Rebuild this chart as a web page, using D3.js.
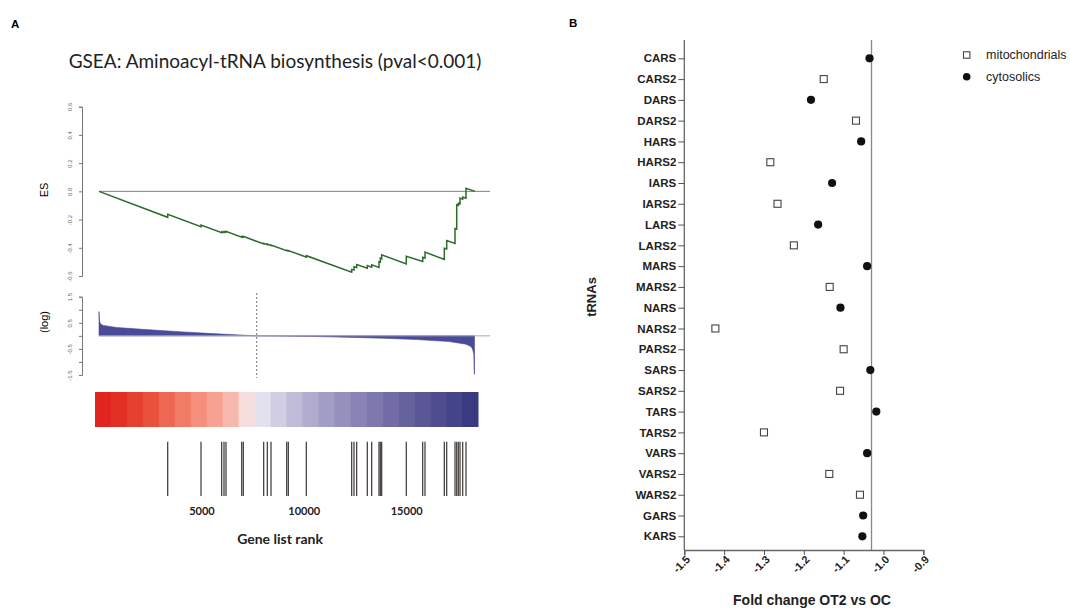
<!DOCTYPE html>
<html><head><meta charset="utf-8">
<script src="https://cdn.jsdelivr.net/npm/d3@7"></script>
<style>body{margin:0;background:#fff} svg{display:block}</style>
</head><body><svg id="c" width="1070" height="610"></svg>
<script>
// ---------- Panel A data ----------
const rankMax = 18360;
const hitRanks = [3355,4981,5991,6104,6201,6968,7046,8042,8218,8399,9166,9244,10123,12339,12452,12583,13101,13316,13672,13736,13804,15005,15806,15918,16861,16978,17384,17467,17545,17628,17760,17921];
const esBefore = [-0.184,-0.250,-0.293,-0.292,-0.290,-0.325,-0.324,-0.373,-0.378,-0.384,-0.421,-0.422,-0.466,-0.573,-0.557,-0.540,-0.545,-0.538,-0.540,-0.503,-0.478,-0.515,-0.497,-0.472,-0.482,-0.409,-0.370,-0.268,-0.100,-0.088,-0.055,-0.049];
const esAfter  = [-0.163,-0.239,-0.286,-0.285,-0.284,-0.320,-0.319,-0.369,-0.374,-0.380,-0.418,-0.419,-0.456,-0.553,-0.535,-0.519,-0.526,-0.521,-0.500,-0.474,-0.450,-0.460,-0.467,-0.431,-0.403,-0.349,-0.264,-0.096,-0.084,-0.048,-0.040,0.022];
const esStartEnd = [0.0, 0.0];
const metricRanks  = [0, 30, 80, 210, 860, 2490, 4120, 5750, 7370, 7700, 10630, 13860, 15490, 17110, 17920, 18160, 18240, 18300, 18325, 18335];
const metricValues = [0.93, 0.55, 0.45, 0.40, 0.32, 0.23, 0.15, 0.077, 0.013, 0, -0.026, -0.09, -0.14, -0.22, -0.32, -0.41, -0.5, -0.7, -1.47, -1.47];
const zeroCrossRank = 7700;
const heatValues = [1.0,0.97,0.92,0.85,0.75,0.65,0.55,0.45,0.32,0.12,-0.08,-0.18,-0.27,-0.35,-0.43,-0.5,-0.57,-0.63,-0.7,-0.76,-0.82,-0.88,-0.94,-1.0];
const esTicks = [-0.6,-0.4,-0.2,0.0,0.2,0.4,0.6];
const metricTicks = [-1.5,-1,-0.5,0,0.5,1,1.5];
const metricLabelTicks = [-1.5,-0.5,0.5,1.5];
const rankTicks = [5000,10000,15000];

// ---------- Panel B data ----------
const genes = ["CARS","CARS2","DARS","DARS2","HARS","HARS2","IARS","IARS2","LARS","LARS2","MARS","MARS2","NARS","NARS2","PARS2","SARS","SARS2","TARS","TARS2","VARS","VARS2","WARS2","GARS","KARS"];
const foldChange = [-1.035,-1.150,-1.182,-1.069,-1.056,-1.284,-1.129,-1.266,-1.164,-1.225,-1.041,-1.135,-1.108,-1.422,-1.100,-1.033,-1.109,-1.018,-1.300,-1.041,-1.136,-1.059,-1.051,-1.053];
const geneType = ["cyto","mito","cyto","mito","cyto","mito","cyto","mito","cyto","mito","cyto","mito","cyto","mito","mito","cyto","mito","cyto","mito","cyto","mito","mito","cyto","cyto"];
const fcTicks = [-1.5,-1.4,-1.3,-1.2,-1.1,-1.0,-0.9];
const refLine = -1.03;
const legendLabels = ["mitochondrials","cytosolics"];
const legendTypes = ["mito","cyto"];

const svg = d3.select("#c");
svg.append("rect").attr("width",1070).attr("height",610).attr("fill","#fff");
const calib = "Lato, 'Open Sans', sans-serif";
const arial = "'Liberation Sans', Arial, sans-serif";

// Panel letters
svg.append("text").attr("x",11).attr("y",28).text("A").attr("font-family",arial).attr("font-weight","bold").attr("font-size",11.5);
svg.append("text").attr("x",569).attr("y",27).text("B").attr("font-family",arial).attr("font-weight","bold").attr("font-size",11.5);

// Title
svg.append("text").attr("x",275).attr("y",68).attr("text-anchor","middle")
  .attr("font-family",calib).attr("font-size",19).attr("fill","#222")
  .text("GSEA: Aminoacyl-tRNA biosynthesis (pval<0.001)");

// ---------- ES plot ----------
const xr = d3.scaleLinear().domain([0, rankMax]).range([99, 475]);
const yES = d3.scaleLinear().domain([-0.6, 0.6]).range([276, 106.7]);
const gES = svg.append("g");
const esAxis = d3.axisLeft(yES).tickValues(esTicks).tickSize(3).tickFormat(d => d.toFixed(1));
const ga = gES.append("g").attr("transform","translate(82,0)").call(esAxis);
ga.select(".domain").attr("stroke","#777");
ga.selectAll(".tick line").attr("stroke","#777");
ga.selectAll(".tick text").attr("x",null).attr("dy",null)
  .attr("transform","translate(-10,0) rotate(-90)").attr("text-anchor","middle")
  .attr("font-size",6).attr("fill","#666").attr("font-family",arial);
gES.append("line").attr("x1",xr(0)).attr("x2",490).attr("y1",yES(0)).attr("y2",yES(0))
  .attr("stroke","#8c7a78").attr("stroke-width",1);
const esPts = [[0, esStartEnd[0]]];
hitRanks.forEach((r,i) => { esPts.push([r, esBefore[i]]); esPts.push([r, esAfter[i]]); });
esPts.push([rankMax, esStartEnd[1]]);
gES.append("path").datum(esPts)
  .attr("d", d3.line().x(d => xr(d[0])).y(d => yES(d[1])))
  .attr("fill","none").attr("stroke","#2f6a2c").attr("stroke-width",1.5);
svg.append("text").attr("transform","translate(48,190) rotate(-90)").attr("text-anchor","middle")
  .attr("font-family",arial).attr("font-size",11).text("ES");

// ---------- ranked metric ----------
const yM = d3.scaleLinear().domain([-1.5, 1.5]).range([375, 296.7]);
const gM = svg.append("g");
const mAxis = d3.axisLeft(yM).tickValues(metricTicks).tickSize(3)
  .tickFormat(d => metricLabelTicks.includes(d) ? String(d) : "");
const gm = gM.append("g").attr("transform","translate(82,0)").call(mAxis);
gm.select(".domain").attr("stroke","#777");
gm.selectAll(".tick line").attr("stroke","#777");
gm.selectAll(".tick text").attr("x",null).attr("dy",null)
  .attr("transform","translate(-10,0) rotate(-90)").attr("text-anchor","middle")
  .attr("font-size",6).attr("fill","#666").attr("font-family",arial);
const metricPts = metricRanks.map((r,i) => [r, metricValues[i]]);
gM.append("path").datum(metricPts)
  .attr("d", d3.area().x(d => xr(d[0])).y0(yM(0)).y1(d => yM(d[1])))
  .attr("fill","#4a4a9c").attr("stroke","#4a4a9c").attr("stroke-width",0.6);
gM.append("line").attr("x1",xr(0)).attr("x2",490).attr("y1",yM(0)).attr("y2",yM(0))
  .attr("stroke","#a8a8a8").attr("stroke-width",1);
gM.append("line").attr("x1",xr(zeroCrossRank)).attr("x2",xr(zeroCrossRank)).attr("y1",293).attr("y2",378)
  .attr("stroke","#777").attr("stroke-width",1).attr("stroke-dasharray","2,2");
svg.append("text").attr("transform","translate(48,322) rotate(-90)").attr("text-anchor","middle")
  .attr("font-family",arial).attr("font-size",11).text("(log)");

// ---------- heat bar ----------
const xh = d3.scaleBand().domain(d3.range(heatValues.length)).range([95, 478]).paddingInner(0);
const heatColor = d3.scaleLinear().domain([-1, 0, 1]).range(["#383a82","#f3f1f8","#e0251f"]).interpolate(d3.interpolateLab);
svg.append("g").selectAll("rect").data(heatValues).join("rect")
  .attr("x",(d,i) => xh(i)).attr("width", xh.bandwidth()+0.5)
  .attr("y",392).attr("height",35).attr("fill", d => heatColor(d));

// ---------- barcode ----------
svg.append("g").selectAll("line").data(hitRanks).join("line")
  .attr("x1", d => xr(d)).attr("x2", d => xr(d)).attr("y1",441.7).attr("y2",496)
  .attr("stroke","#3a3533").attr("stroke-width",1.2);

// rank axis labels
const rAxis = d3.axisBottom(xr).tickValues(rankTicks).tickSize(0).tickFormat(d3.format("d"));
const gr = svg.append("g").attr("transform","translate(0,504)").call(rAxis);
gr.select(".domain").remove();
gr.selectAll(".tick text").attr("font-family",calib).attr("font-weight","bold").attr("font-size",11).attr("fill","#222");
svg.append("text").attr("x",280).attr("y",544).attr("text-anchor","middle")
  .attr("font-family",calib).attr("font-weight","bold").attr("font-size",14).attr("fill","#222").text("Gene list rank");

// ---------- Panel B ----------
const xB = d3.scaleLinear().domain([-1.5, -0.9]).range([684.3, 923.3]);
const yB = d3.scalePoint().domain(genes).range([58.3, 536.3]);
const gB = svg.append("g");
gB.append("line").attr("x1",684.3).attr("x2",684.3).attr("y1",40).attr("y2",550).attr("stroke","#666").attr("stroke-width",1.3);
gB.append("line").attr("x1",xB(refLine)).attr("x2",xB(refLine)).attr("y1",40).attr("y2",550).attr("stroke","#888").attr("stroke-width",1.3);
const yAx = d3.axisLeft(yB).tickSize(6).tickPadding(2);
const gy = gB.append("g").attr("transform","translate(684.3,0)").call(yAx);
gy.select(".domain").remove();
gy.selectAll(".tick line").attr("stroke","#555");
gy.selectAll(".tick text").attr("font-family",arial).attr("font-weight","bold").attr("font-size",11.5).attr("fill","#222");
const xAx = d3.axisBottom(xB).tickValues(fcTicks).tickSize(5).tickFormat(d => d.toFixed(1));
const gx = gB.append("g").attr("transform","translate(0,550)").call(xAx);
gx.select(".domain").attr("stroke","#666").attr("stroke-width",1.3);
gx.selectAll(".tick line").attr("stroke","#555");
gx.selectAll(".tick text").attr("y",null).attr("dy",null)
  .attr("transform","translate(4,8) rotate(-45)").attr("text-anchor","end").attr("dominant-baseline","middle")
  .attr("font-family",arial).attr("font-weight","bold").attr("font-size",11).attr("fill","#222");
gB.append("text").attr("x",812).attr("y",605).attr("text-anchor","middle")
  .attr("font-family",arial).attr("font-weight","bold").attr("font-size",14).attr("fill","#222").text("Fold change OT2 vs OC");
gB.append("text").attr("transform","translate(596,297) rotate(-90)").attr("text-anchor","middle")
  .attr("font-family",arial).attr("font-weight","bold").attr("font-size",13).attr("fill","#222").text("tRNAs");

function drawMarker(sel, type, cx, cy, s) {
  if (type === "mito") {
    sel.append("rect").attr("x",cx-s).attr("y",cy-s).attr("width",2*s).attr("height",2*s)
      .attr("fill","#fff").attr("stroke","#444").attr("stroke-width",1.1);
  } else {
    sel.append("circle").attr("cx",cx).attr("cy",cy).attr("r",s+0.6).attr("fill","#111");
  }
}
const pts = gB.append("g");
genes.forEach((g,i) => drawMarker(pts, geneType[i], xB(foldChange[i]), yB(g), 3.5));

// legend
const legY = d3.scalePoint().domain(legendLabels).range([55, 76.7]);
legendLabels.forEach((l,i) => {
  drawMarker(svg, legendTypes[i], 966.7, legY(l), 3.2);
  svg.append("text").attr("x",986).attr("y",legY(l)).attr("dy","0.35em")
    .attr("font-family",arial).attr("font-size",12.5).attr("fill","#222").text(l);
});
</script></body></html>
